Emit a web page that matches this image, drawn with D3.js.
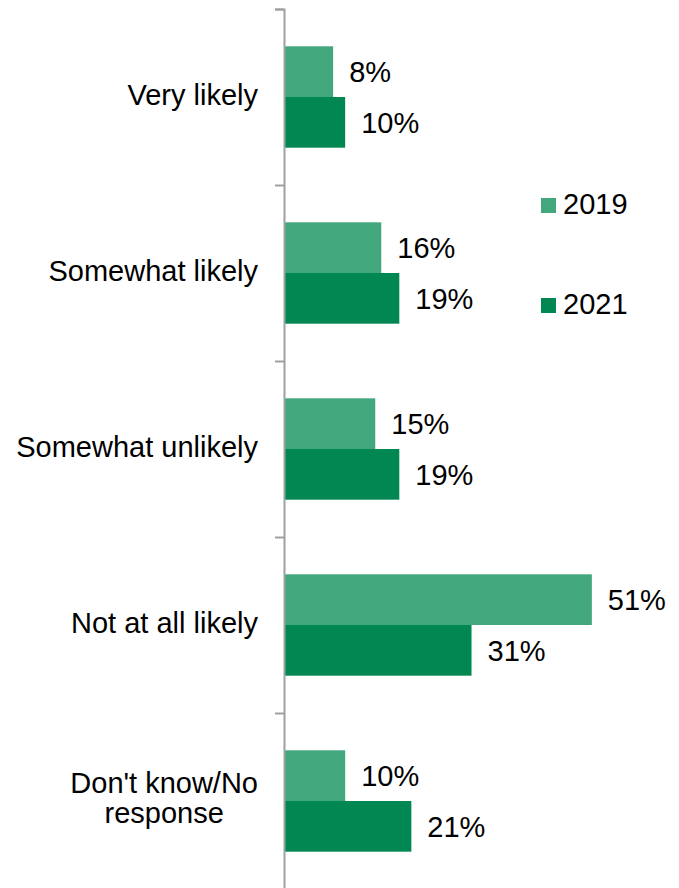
<!DOCTYPE html>
<html>
<head>
<meta charset="utf-8">
<script src="https://cdn.jsdelivr.net/npm/d3@7"></script>
<style>
  html, body { margin: 0; padding: 0; background: #fff; }
  svg { display: block; font-family: "Liberation Sans", Arial, sans-serif; }
</style>
</head>
<body>
<svg id="chart" width="679" height="888"></svg>
<script>
// Survey responses, share of respondents (%)
const categories = ["Very likely", "Somewhat likely", "Somewhat unlikely", "Not at all likely", "Don't know/No response"];
const categoryLines = [["Very likely"], ["Somewhat likely"], ["Somewhat unlikely"], ["Not at all likely"], ["Don't know/No", "response"]];
const seriesNames = ["2019", "2021"];
const values2019 = [8, 16, 15, 51, 10];
const values2021 = [10, 19, 19, 31, 21];
const seriesColors = ["#43a77e", "#008752"];

const svg = d3.select("#chart");
const axisX = 284;
const plotTop = 9, plotBottom = 889;
const fontSize = 29;

const x = d3.scaleLinear().domain([0, 60]).range([axisX + 1, axisX + 1 + 361]);
const y = d3.scaleBand().domain(categories).range([plotTop, plotBottom]).paddingInner(0).paddingOuter(0);
const bandH = y.bandwidth();
const yInner = d3.scaleBand().domain(seriesNames).range([bandH * 0.212, bandH * 0.788]).padding(0);

const valuesBySeries = [values2019, values2021];
const rows = [];
categories.forEach((c, i) => {
  seriesNames.forEach((s, j) => rows.push({ cat: c, series: s, value: valuesBySeries[j][i], color: seriesColors[j] }));
});

// bars
svg.append("g").selectAll("rect").data(rows).join("rect")
  .attr("x", x(0))
  .attr("y", d => y(d.cat) + yInner(d.series))
  .attr("width", d => x(d.value) - x(0))
  .attr("height", yInner.bandwidth())
  .attr("fill", d => d.color);

// value labels
svg.append("g").selectAll("text").data(rows).join("text")
  .attr("x", d => x(d.value) + 16)
  .attr("y", d => y(d.cat) + yInner(d.series) + yInner.bandwidth() / 2)
  .attr("dy", "0.36em")
  .attr("font-size", fontSize)
  .attr("fill", "#000")
  .text(d => d.value + "%");

// category axis with ticks on band edges
const yEdge = d3.scaleLinear().domain([0, categories.length]).range([plotTop, plotBottom]);
const axisG = svg.append("g")
  .attr("transform", `translate(${axisX},0)`)
  .call(d3.axisLeft(yEdge).ticks(categories.length).tickSizeInner(9).tickSizeOuter(9).tickFormat(""));
axisG.select(".domain").attr("stroke", "#a0a0a0").attr("stroke-width", 2);
axisG.selectAll(".tick line").attr("stroke", "#a0a0a0").attr("stroke-width", 2);

// category labels (multi-line labels are centred within their block)
const lineH = 30;
const labelG = svg.append("g");
categories.forEach((c, i) => {
  const lines = categoryLines[i];
  const multi = lines.length > 1;
  const cy = y(c) + bandH / 2 - (multi ? 3 : 2);
  const t = labelG.append("text")
    .attr("font-size", fontSize)
    .attr("fill", "#000")
    .attr("text-anchor", multi ? "middle" : "end");
  const nodes = lines.map((ln, k) => t.append("tspan")
    .attr("x", 258)
    .attr("y", cy + (k - (lines.length - 1) / 2) * lineH)
    .attr("dy", "0.36em")
    .text(ln));
  if (multi) {
    const blockW = d3.max(nodes, n => n.node().getComputedTextLength());
    nodes.forEach(n => n.attr("x", 258 - blockW / 2));
  }
});

// legend
const legend = svg.append("g").selectAll("g").data(seriesNames).join("g")
  .attr("transform", (d, i) => `translate(541,${198 + i * 100})`);
legend.append("rect").attr("width", 15).attr("height", 15).attr("fill", (d, i) => seriesColors[i]);
legend.append("text").attr("x", 22).attr("y", 15.5)
  .attr("font-size", fontSize).attr("fill", "#000").text(d => d);
</script>
</body>
</html>
